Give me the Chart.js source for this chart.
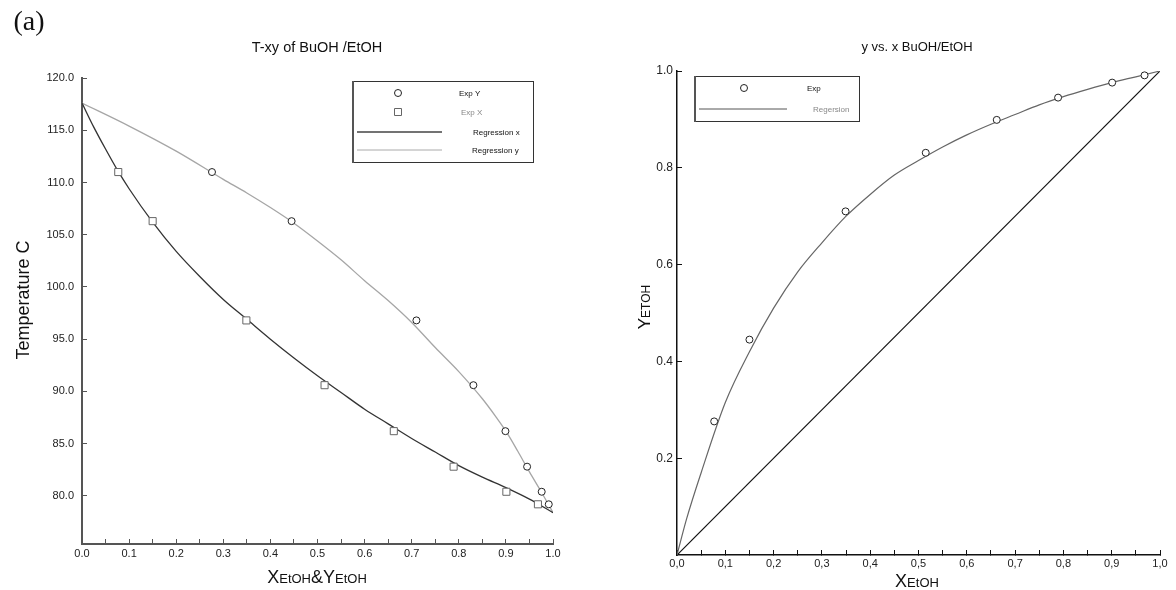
<!DOCTYPE html>
<html>
<head>
<meta charset="utf-8">
<script src="https://cdn.jsdelivr.net/npm/chart.js@4.4.1/dist/chart.umd.min.js"></script>
<style>
  html, body { margin: 0; padding: 0; background: #fff; }
  #wrap { position: relative; width: 1176px; height: 590px; }
  canvas { position: absolute; top: 0; }
  #left { left: 0; }
  #right { left: 588px; }
</style>
</head>
<body>
<div id="wrap">
  <canvas id="left" width="588" height="590"></canvas>
  <canvas id="right" width="588" height="590"></canvas>
</div>
<script>
// experimental points (same runs in both plots)
const tempExp = [111.0, 106.3, 96.8, 90.6, 86.2, 82.8, 80.4, 79.2];
const xEtohExp = [0.077, 0.150, 0.349, 0.515, 0.662, 0.789, 0.901, 0.968];
const yEtohExp = [0.276, 0.445, 0.710, 0.831, 0.899, 0.945, 0.976, 0.991];

// regression curve T-x (liquid)
const regX     = [0, 0.025, 0.05, 0.075, 0.1, 0.15, 0.2, 0.25, 0.3, 0.35, 0.4, 0.45, 0.5, 0.55, 0.6, 0.65, 0.7, 0.75, 0.8, 0.85, 0.9, 0.95, 1.0];
const regXTemp = [117.6, 115.3, 113.2, 111.2, 109.4, 106.2, 103.4, 101.0, 98.8, 96.9, 95.0, 93.2, 91.5, 89.9, 88.3, 86.9, 85.5, 84.2, 82.9, 81.8, 80.8, 79.7, 78.4];

// regression curve T-y (vapour)
const regY     = [0, 0.1, 0.2, 0.3, 0.35, 0.4, 0.45, 0.5, 0.55, 0.6, 0.65, 0.7, 0.75, 0.8, 0.85, 0.88, 0.9, 0.925, 0.95, 0.975, 1.0];
const regYTemp = [117.6, 115.4, 113.0, 110.3, 109.0, 107.6, 106.1, 104.4, 102.6, 100.6, 98.7, 96.6, 94.2, 91.9, 89.3, 87.5, 86.2, 84.3, 82.3, 80.4, 78.4];

// y vs x regression + diagonal
const curveX = [0, 0.02, 0.05, 0.1, 0.15, 0.2, 0.25, 0.3, 0.35, 0.4, 0.45, 0.5, 0.55, 0.6, 0.65, 0.7, 0.75, 0.8, 0.85, 0.9, 0.95, 1.0];
const curveY = [0, 0.075, 0.17, 0.315, 0.42, 0.51, 0.585, 0.645, 0.70, 0.745, 0.785, 0.815, 0.843, 0.868, 0.89, 0.91, 0.93, 0.947, 0.962, 0.976, 0.988, 1.0];
const diagX = [0, 1];
const diagY = [0, 1];

// ticks
const xTicks = [0, 0.05, 0.1, 0.15, 0.2, 0.25, 0.3, 0.35, 0.4, 0.45, 0.5, 0.55, 0.6, 0.65, 0.7, 0.75, 0.8, 0.85, 0.9, 0.95, 1.0];
const tempTicks = [80, 85, 90, 95, 100, 105, 110, 115, 120];
const yTicks = [0.2, 0.4, 0.6, 0.8, 1.0];

const SANS = '"Liberation Sans", Arial, sans-serif';
Chart.defaults.font.family = SANS;
Chart.defaults.color = '#222';

const pts = (xs, ys) => xs.map((x, i) => ({ x: x, y: ys[i] }));
const minor = v => Math.round(v * 100) % 10 !== 0;

function axis(o) {
  return {
    type: 'linear',
    position: o.pos,
    min: o.min,
    max: o.max,
    border: { color: o.color, width: o.width },
    grid: { drawOnChartArea: false, color: o.color, tickLength: -5, tickWidth: 1 },
    ticks: { autoSkip: false, maxRotation: 0, padding: o.pad, color: '#222', font: { size: o.font || 11 }, callback: o.label },
    afterBuildTicks: s => { s.ticks = o.ticks.map(v => ({ value: v })); },
    afterFit: s => { if (o.pos === 'left') s.width = o.size; else s.height = o.size; }
  };
}

// text pieces with mixed sizes (X + small EtOH ...)
function drawRich(ctx, t) {
  ctx.save();
  ctx.translate(t.x, t.y);
  if (t.rotate) ctx.rotate(-Math.PI / 2);
  ctx.textBaseline = 'alphabetic';
  ctx.textAlign = 'left';
  const fam = t.family || SANS;
  let w = 0;
  t.parts.forEach(p => { ctx.font = p[1] + 'px ' + fam; w += ctx.measureText(p[0]).width; });
  let x = -w / 2;
  t.parts.forEach(p => {
    ctx.font = p[1] + 'px ' + fam;
    ctx.fillStyle = p[2] || '#111';
    ctx.fillText(p[0], x, 0);
    x += ctx.measureText(p[0]).width;
  });
  ctx.restore();
}

function drawLegend(ctx, lg) {
  const b = lg.box;
  ctx.fillStyle = '#fff';
  ctx.fillRect(b[0], b[1], b[2], b[3]);
  ctx.strokeStyle = '#333';
  ctx.lineWidth = 1;
  ctx.strokeRect(b[0] + 0.5, b[1] + 0.5, b[2], b[3]);
  ctx.fillStyle = '#555';
  ctx.fillRect(b[0], b[1], 2, b[3] + 1);
  ctx.font = '8px ' + SANS;
  ctx.textBaseline = 'middle';
  ctx.textAlign = 'left';
  lg.items.forEach(it => {
    ctx.strokeStyle = it.color;
    ctx.lineWidth = it.width || 1;
    ctx.beginPath();
    if (it.mark === 'circle') {
      ctx.arc(it.mx, it.y, 3.5, 0, Math.PI * 2);
    } else if (it.mark === 'square') {
      ctx.rect(it.mx - 3.5, it.y - 3.5, 7, 7);
    } else {
      ctx.moveTo(it.x1, it.y);
      ctx.lineTo(it.x2, it.y);
    }
    ctx.stroke();
    ctx.fillStyle = it.tc || '#111';
    ctx.fillText(it.label, it.tx, it.y + 0.5);
  });
}

function extras(texts, legend) {
  return {
    id: 'extras',
    afterDraw(chart) {
      const ctx = chart.ctx;
      ctx.save();
      texts.forEach(t => drawRich(ctx, t));
      drawLegend(ctx, legend);
      ctx.restore();
    }
  };
}

const common = {
  responsive: false,
  animation: false,
  devicePixelRatio: 1,
  events: [],
  plugins: { legend: { display: false }, tooltip: { enabled: false } }
};

// T-xy
new Chart(document.getElementById('left'), {
  type: 'scatter',
  data: {
    datasets: [
      { label: 'Exp Y', data: pts(yEtohExp, tempExp), pointStyle: 'circle', pointRadius: 3.5,
        borderColor: '#222', backgroundColor: '#fff', borderWidth: 1, order: 0 },
      { label: 'Exp X', data: pts(xEtohExp, tempExp), pointStyle: 'rect', pointRadius: 5,
        borderColor: '#666', backgroundColor: '#fff', borderWidth: 1, order: 0 },
      { label: 'Regression x', data: pts(regX, regXTemp), showLine: true, pointRadius: 0,
        borderColor: '#333', borderWidth: 1.3, cubicInterpolationMode: 'monotone', order: 1 },
      { label: 'Regression y', data: pts(regY, regYTemp), showLine: true, pointRadius: 0,
        borderColor: '#a6a6a6', borderWidth: 1.3, cubicInterpolationMode: 'monotone', order: 1 }
    ]
  },
  options: Object.assign({}, common, {
    layout: { padding: { left: 0, top: 78, right: 35, bottom: 0 } },
    scales: {
      x: axis({ pos: 'bottom', min: 0, max: 1, ticks: xTicks, color: '#555', width: 2, pad: 8, size: 46,
                label: v => minor(v) ? '' : v.toFixed(1) }),
      y: axis({ pos: 'left', min: 75.4, max: 120, ticks: tempTicks, color: '#555', width: 2, pad: 13, size: 82,
                label: v => v.toFixed(1) })
    }
  }),
  plugins: [extras([
    { parts: [['(a)', 28]], x: 29, y: 30, family: '"Liberation Serif", "Times New Roman", serif' },
    { parts: [['T-xy of BuOH /EtOH', 14.5]], x: 317, y: 52 },
    { parts: [['Temperature C', 18]], x: 29, y: 300, rotate: true },
    { parts: [['X', 18], ['EtOH', 13], ['&', 18], ['Y', 18], ['EtOH', 13]], x: 317, y: 583 }
  ], {
    box: [352, 81, 181, 81],
    items: [
      { mark: 'circle', mx: 398, y: 93, color: '#222', label: 'Exp Y', tx: 459 },
      { mark: 'square', mx: 398, y: 112, color: '#666', label: 'Exp X', tx: 461, tc: '#888' },
      { mark: 'line', x1: 357, x2: 442, y: 132, color: '#444', width: 1.5, label: 'Regression x', tx: 473 },
      { mark: 'line', x1: 357, x2: 442, y: 150, color: '#aaa', label: 'Regression y', tx: 472 }
    ]
  })]
});

// y vs x
new Chart(document.getElementById('right'), {
  type: 'scatter',
  data: {
    datasets: [
      { label: 'Exp', data: pts(xEtohExp, yEtohExp), pointStyle: 'circle', pointRadius: 3.5,
        borderColor: '#222', backgroundColor: '#fff', borderWidth: 1, order: 0 },
      { label: 'Regersion', data: pts(curveX, curveY), showLine: true, pointRadius: 0,
        borderColor: '#666', borderWidth: 1.2, cubicInterpolationMode: 'monotone', order: 1 },
      { label: 'x = y', data: pts(diagX, diagY), showLine: true, pointRadius: 0,
        borderColor: '#111', borderWidth: 1.2, order: 1 }
    ]
  },
  options: Object.assign({}, common, {
    layout: { padding: { left: 0, top: 71, right: 16, bottom: 0 } },
    scales: {
      x: axis({ pos: 'bottom', min: 0, max: 1, ticks: xTicks, color: '#111', width: 1.5, pad: 7, size: 35,
                label: v => minor(v) ? '' : v.toFixed(1).replace('.', ',') }),
      y: axis({ pos: 'left', min: 0, max: 1, ticks: yTicks, color: '#111', width: 1.5, pad: 9, size: 89, font: 12,
                label: v => v.toFixed(1) })
    }
  }),
  plugins: [extras([
    { parts: [['y vs. x BuOH/EtOH', 13]], x: 329, y: 51 },
    { parts: [['Y', 17], ['ETOH', 12]], x: 62, y: 307, rotate: true },
    { parts: [['X', 18], ['EtOH', 13]], x: 329, y: 587 }
  ], {
    box: [106, 76, 165, 45],
    items: [
      { mark: 'circle', mx: 156, y: 88, color: '#222', label: 'Exp', tx: 219 },
      { mark: 'line', x1: 111, x2: 199, y: 109, color: '#555', label: 'Regersion', tx: 225, tc: '#888' }
    ]
  })]
});
</script>
</body>
</html>
